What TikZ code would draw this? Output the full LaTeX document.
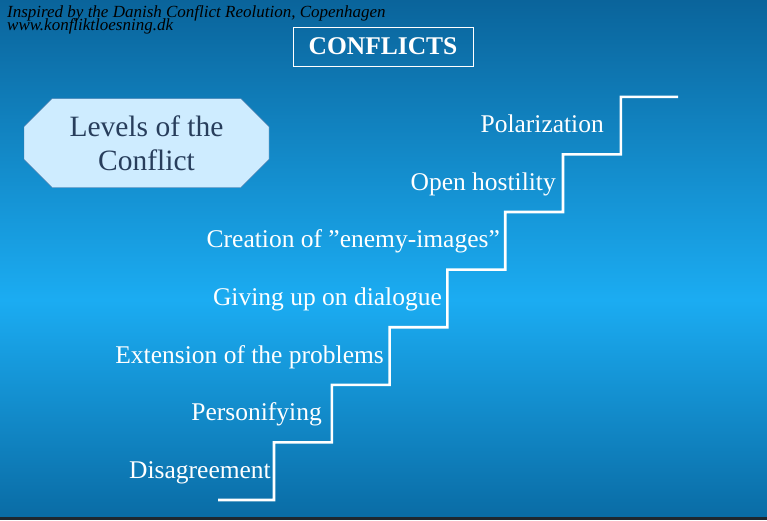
\documentclass[tikz,border=0pt]{standalone}
\usepackage{fontspec}
\setmainfont{Liberation Serif}
\usetikzlibrary{shapes.misc, positioning}
\definecolor{bgtop}{RGB}{10, 100, 155}
\definecolor{bgmid}{RGB}{27, 172, 242}
\definecolor{bgbot}{RGB}{10, 108, 165}
\definecolor{bgedge}{RGB}{30, 40, 48}
\definecolor{octfill}{RGB}{206, 236, 255}
\definecolor{octline}{RGB}{70, 110, 160}
\definecolor{octtext}{RGB}{40, 62, 92}
\tikzset{
  credit/.style={anchor=base west, inner sep=0pt, text=black,
                 font=\fontsize{17}{14}\selectfont\itshape},
  titlebox/.style={rectangle, draw=white, line width=0.8pt, text=white,
                   minimum width=180pt, minimum height=39pt, inner sep=0pt,
                   font=\fontsize{25.5}{28}\selectfont\bfseries},
  levelbox/.style={chamfered rectangle, chamfered rectangle xsep=25pt,
                   draw=octline, fill=octfill, text=octtext, align=center,
                   minimum width=245pt, minimum height=89pt, inner sep=0pt,
                   font=\fontsize{29.5}{34}\selectfont},
  stairs/.style={draw=white, line width=2.6pt},
  stage/.style={anchor=base east, inner sep=0pt, text=white,
                font=\fontsize{25.5}{28}\selectfont},
}
\begin{document}
\begin{tikzpicture}[x=1pt, y=-1pt]
  \useasboundingbox (0,0) rectangle (767,520);
  % background
  \shade[top color=bgtop, bottom color=bgmid] (0,0) rectangle (767,300);
  \shade[top color=bgmid, bottom color=bgbot] (0,300) rectangle (767,517);
  \fill[bgedge] (0,517) rectangle (767,520);

  \node[credit] (credit) at (7,17)
       {Inspired by the Danish Conflict Reolution, Copenhagen};
  \node[credit] (site) at (7,30.5) {www.konfliktloesning.dk};
  \node[titlebox] (title) at (383,46.5) {CONFLICTS};
  \node[levelbox] (levels) at (146.5,143) {Levels of the\\Conflict};

  % staircase
  \draw[stairs] (218,500)
    \foreach \i in {0,...,6} {
      -- ({274+57.8*\i},{500-57.6*\i}) -- ({274+57.8*\i},{442.4-57.6*\i})
    } -- (678,96.8);

  \foreach \tx/\ty/\nm/\txt in {
      271/478/s1/Disagreement,
      322/420/s2/Personifying,
      384/363/s3/Extension of the problems,
      442/305/s4/Giving up on dialogue,
      500/247/s5/Creation of ”enemy-images”,
      556/190/s6/Open hostility,
      604/132/s7/Polarization}
    \node[stage] (\nm) at (\tx,\ty) {\txt};
\end{tikzpicture}
\end{document}
